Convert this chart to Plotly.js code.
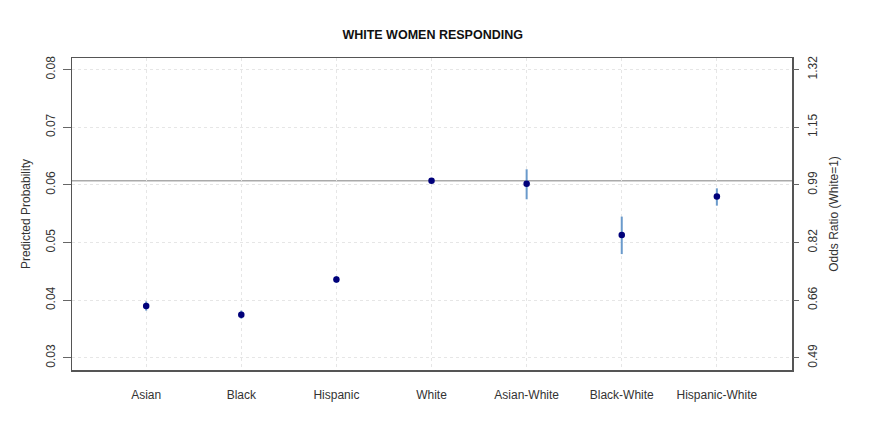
<!DOCTYPE html>
<html>
<head>
<meta charset="utf-8">
<script src="https://cdn.plot.ly/plotly-3.0.1.min.js"></script>
<style>html,body{margin:0;padding:0;background:#fff;}#chart{width:883px;height:426px;}</style>
</head>
<body>
<div id="chart"></div>
<script>
const categories = ["Asian", "Black", "Hispanic", "White", "Asian-White", "Black-White", "Hispanic-White"];
const probability = [0.0390, 0.0375, 0.0436, 0.0607, 0.0602, 0.0513, 0.0580];
const upper = [0.0398, 0.0382, 0.0442, 0.0609, 0.0627, 0.0545, 0.0594];
const lower = [0.0382, 0.0368, 0.0430, 0.0605, 0.0575, 0.0480, 0.0564];
const leftTicks = [0.03, 0.04, 0.05, 0.06, 0.07, 0.08];
const rightTickText = ["0.49", "0.66", "0.82", "0.99", "1.15", "1.32"];
const whiteBaseline = probability[3];

const yRange = [0.0279, 0.0820];
const plusErr = upper.map((u, i) => u - probability[i]);
const minusErr = lower.map((l, i) => probability[i] - l);
const xIdx = categories.map((c, i) => i);

const traces = [
  {
    x: xIdx, y: probability, type: "scatter", mode: "markers",
    marker: {color: "#00007a", size: 6.5},
    error_y: {type: "data", symmetric: false, array: plusErr, arrayminus: minusErr,
              color: "#6a9acb", thickness: 2, width: 0},
    showlegend: false, hoverinfo: "skip"
  },
  {
    x: [xIdx[0]], y: [whiteBaseline], yaxis: "y2", type: "scatter", mode: "markers",
    marker: {opacity: 0}, showlegend: false, hoverinfo: "skip"
  }
];

const FONT = "Liberation Sans, Arial, sans-serif";
const tickFont = {family: FONT, size: 12, color: "#333"};

const layout = {
  width: 883, height: 426,
  margin: {l: 72, r: 91, t: 58, b: 56},
  paper_bgcolor: "#fff", plot_bgcolor: "#fff",
  title: {text: "<b>WHITE WOMEN RESPONDING</b>", x: 0.49, xanchor: "center", y: 0.918, yanchor: "middle",
          font: {family: FONT, size: 12.5, color: "#111"}},
  xaxis: {
    range: [-0.78, 6.79], tickvals: xIdx, ticktext: categories,
    showgrid: true, gridcolor: "#e6e6e6", griddash: "dot", gridwidth: 1,
    zeroline: false, ticks: "", tickfont: tickFont, ticklabelstandoff: 13,
    showline: true, linecolor: "#555", linewidth: 1.5, mirror: true
  },
  yaxis: {
    range: yRange, tickvals: leftTicks, ticktext: leftTicks.map(v => v.toFixed(2)),
    tickangle: -90, ticks: "outside", ticklen: 8, tickcolor: "#666", ticklabelstandoff: 3,
    showgrid: true, gridcolor: "#e6e6e6", griddash: "dot", gridwidth: 1, zeroline: false,
    tickfont: tickFont,
    showline: true, linecolor: "#555", linewidth: 1.5, mirror: true,
    title: {text: "Predicted Probability", standoff: 10, font: {family: FONT, size: 12, color: "#333"}}
  },
  yaxis2: {
    overlaying: "y", side: "right",
    range: yRange.map(v => v / whiteBaseline),
    tickvals: leftTicks.map(v => v / whiteBaseline), ticktext: rightTickText,
    tickangle: -90, ticks: "outside", ticklen: 6, tickcolor: "#666", ticklabelstandoff: 4,
    showgrid: false, zeroline: false, tickfont: tickFont,
    title: {text: "Odds Ratio (White=1)", standoff: 10, font: {family: FONT, size: 12, color: "#333"}}
  },
  shapes: [{
    type: "line", xref: "paper", x0: 0, x1: 1, yref: "y", y0: whiteBaseline, y1: whiteBaseline,
    line: {color: "#aaaaaa", width: 1.5}, layer: "below"
  }]
};

Plotly.newPlot("chart", traces, layout, {displayModeBar: false, staticPlot: true});
</script>
</body>
</html>
